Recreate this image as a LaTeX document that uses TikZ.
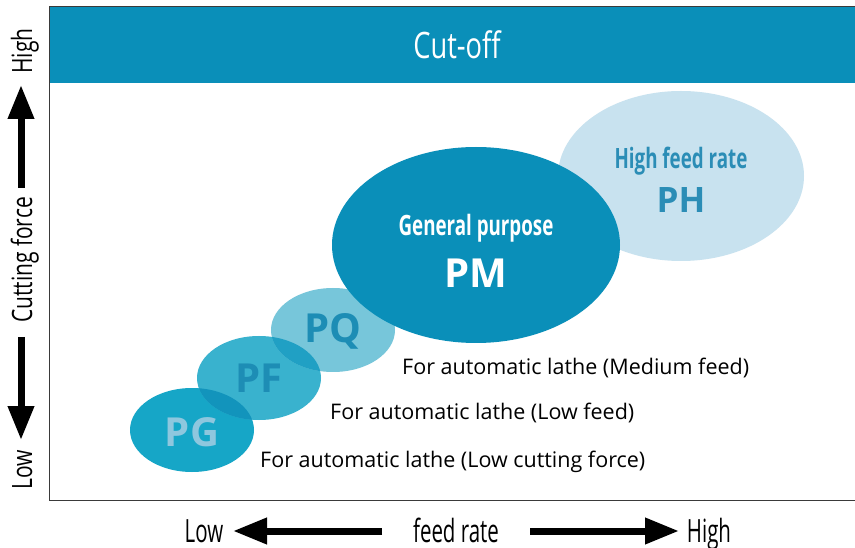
\documentclass[tikz,border=0pt]{standalone}
\usepackage{fontspec}
\setmainfont{Open Sans}
\newfontfamily\condf[FakeStretch=0.75]{Open Sans}
\newfontfamily\condb[FakeStretch=0.67]{Open Sans}
\newfontfamily\condg[FakeStretch=0.64]{Open Sans}
\usetikzlibrary{arrows.meta,shapes.geometric}
\definecolor{barblue}{HTML}{0A8FB9}
\definecolor{phfill}{HTML}{C8E2EF}
\definecolor{phtext}{HTML}{2B8DB6}
\definecolor{pqfill}{HTML}{77C6DA}
\definecolor{pffill}{HTML}{39B2CE}
\definecolor{pgfill}{HTML}{16A6C7}
\definecolor{ovgf}{HTML}{1294BC}
\definecolor{ovfq}{HTML}{20A0C4}
\definecolor{pqtext}{HTML}{1D8DB5}
\definecolor{pgtext}{HTML}{8EC7DE}
\definecolor{framec}{HTML}{3A3A3A}
\tikzset{
  blob/.style={ellipse, inner sep=0pt, draw=none},
  bigarrow/.style={line width=7pt, -{Triangle[width=25pt,length=34pt]}},
  yaxislbl/.style={font=\condf\fontsize{28}{32}\selectfont, inner sep=0pt, rotate=90, anchor=base},
  xaxislbl/.style={font=\condg\fontsize{32}{36}\selectfont, inner sep=0pt, anchor=base},
  usetxt/.style={font=\fontsize{21.5}{25}\selectfont, anchor=west, inner sep=0pt},
  codetxt/.style={font=\bfseries\fontsize{40}{44}\selectfont, inner sep=0pt},
  nametxt/.style={font=\condb\bfseries\fontsize{28}{32}\selectfont, inner sep=0pt},
}
\begin{document}
\begin{tikzpicture}[x=1pt,y=-1pt]
\useasboundingbox (0,0) rectangle (855,548);
\fill[white] (0,0) rectangle (855,548);
% top bar and frame
\fill[barblue] (49,7) rectangle (855,83);
\draw[framec, line width=1pt] (855,7) -- (49,7) -- (49,500) -- (855,500);
\node[font=\condf\fontsize{36.4}{40}\selectfont, text=white, inner sep=0pt] (title) at (457,45) {Cut-off};
% ellipses
\node[blob, fill=pgfill, minimum width=124pt, minimum height=84pt] (pg) at (192,430) {};
\node[blob, fill=pffill, minimum width=124pt, minimum height=84pt] (pf) at (259,378) {};
\node[blob, fill=pqfill, minimum width=124pt, minimum height=84pt] (pq) at (333,330) {};
\begin{scope}
  \clip (192,430) ellipse [x radius=62pt, y radius=42pt];
  \fill[ovgf] (259,378) ellipse [x radius=62pt, y radius=42pt];
\end{scope}
\begin{scope}
  \clip (259,378) ellipse [x radius=62pt, y radius=42pt];
  \fill[ovfq] (333,330) ellipse [x radius=62pt, y radius=42pt];
\end{scope}
\node[blob, fill=phfill, minimum width=246pt, minimum height=170pt] (ph) at (681,176) {};
\node[blob, fill=barblue, minimum width=288pt, minimum height=196pt] (pm) at (476,245) {};
% labels in ellipses
\node[nametxt, text=phtext] (phname) at (681,161) {High feed rate};
\node[codetxt, text=phtext, font=\bfseries\fontsize{35}{40}\selectfont] (phcode) at (681,200) {PH};
\node[nametxt, text=white] (pmname) at (476,228) {General purpose};
\node[codetxt, text=white] (pmcode) at (476,273) {PM};
\node[codetxt, text=pqtext] (pqcode) at (333,331) {PQ};
\node[codetxt, text=pqtext] (pfcode) at (259,378) {PF};
\node[codetxt, text=pgtext] (pgcode) at (192,432) {PG};
% usage texts
\node[usetxt] (pqtxt) at (402,368) {For automatic lathe (Medium feed)};
\node[usetxt] (pftxt) at (330,413) {For automatic lathe (Low feed)};
\node[usetxt] (pgtxt) at (260,462) {For automatic lathe (Low cutting force)};
% vertical axis
\node[yaxislbl] (yhigh) at (32,51) {High};
\node[yaxislbl] (yname) at (32,260) {Cutting force};
\node[yaxislbl] (ylow) at (32,470) {Low};
\coordinate (ua1) at (21,188);
\coordinate (ua2) at (21,85);
\coordinate (da1) at (21,337);
\coordinate (da2) at (21,440);
\draw[bigarrow] (ua1) -- (ua2);
\draw[bigarrow] (da1) -- (da2);
% horizontal axis
\node[xaxislbl] (xlow) at (204,542) {Low};
\node[xaxislbl] (xname) at (456,542) {feed rate};
\node[xaxislbl] (xhigh) at (709,542) {High};
\coordinate (la1) at (382,531);
\coordinate (la2) at (233,531);
\coordinate (ra1) at (530,531);
\coordinate (ra2) at (679,531);
\draw[bigarrow] (la1) -- (la2);
\draw[bigarrow] (ra1) -- (ra2);
\end{tikzpicture}
\end{document}
